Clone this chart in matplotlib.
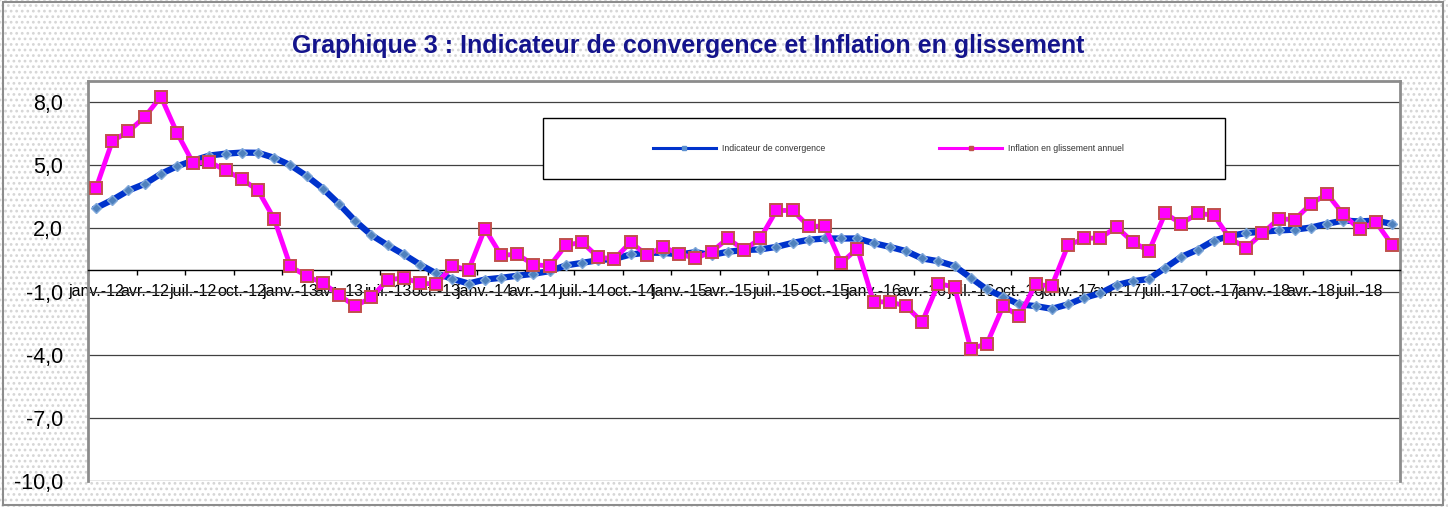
import matplotlib
matplotlib.use("Agg")
import matplotlib.pyplot as plt
from matplotlib.patches import Rectangle
from matplotlib.lines import Line2D
import numpy as np

# ---------------- data ----------------
tick_labels = ["janv.-12", "avr.-12", "juil.-12", "oct.-12",
               "janv.-13", "avr.-13", "juil.-13", "oct.-13",
               "janv.-14", "avr.-14", "juil.-14", "oct.-14",
               "janv.-15", "avr.-15", "juil.-15", "oct.-15",
               "janv.-16", "avr.-16", "juil.-16", "oct.-16",
               "janv.-17", "avr.-17", "juil.-17", "oct.-17",
               "janv.-18", "avr.-18", "juil.-18"]

indicateur = [2.97, 3.35, 3.80, 4.11, 4.59, 4.95, 5.22, 5.46, 5.55, 5.60,
              5.59, 5.35, 5.00, 4.49, 3.89, 3.16, 2.35, 1.68, 1.20, 0.76,
              0.28, -0.14, -0.40, -0.62, -0.43, -0.35, -0.25, -0.16, -0.03, 0.24,
              0.36, 0.49, 0.55, 0.76, 0.84, 0.84, 0.76, 0.87, 0.73, 0.89,
              0.97, 1.00, 1.12, 1.31, 1.46, 1.52, 1.52, 1.52, 1.30, 1.12,
              0.92, 0.57, 0.44, 0.21, -0.35, -0.90, -1.25, -1.61, -1.69, -1.82,
              -1.61, -1.30, -1.08, -0.69, -0.51, -0.40, 0.12, 0.65, 0.98, 1.42,
              1.64, 1.78, 1.84, 1.90, 1.94, 2.04, 2.22, 2.37, 2.33, 2.37,
              2.21]

inflation = [3.92, 6.14, 6.61, 7.29, 8.26, 6.53, 5.09, 5.16, 4.75, 4.34,
             3.80, 2.44, 0.19, -0.27, -0.59, -1.17, -1.70, -1.27, -0.45, -0.35,
             -0.60, -0.65, 0.21, 0.03, 1.98, 0.73, 0.76, 0.28, 0.21, 1.20,
             1.34, 0.63, 0.55, 1.34, 0.73, 1.12, 0.79, 0.57, 0.89, 1.52,
             0.97, 1.52, 2.85, 2.85, 2.10, 2.10, 0.36, 1.04, -1.49, -1.49,
             -1.69, -2.45, -0.62, -0.79, -3.72, -3.48, -1.69, -2.17, -0.66, -0.74,
             1.19, 1.52, 1.55, 2.06, 1.36, 0.92, 2.71, 2.22, 2.71, 2.63,
             1.52, 1.08, 1.76, 2.45, 2.42, 3.16, 3.64, 2.66, 1.95, 2.31,
             1.23]

y_ticks = [-10, -7, -4, -1, 2, 5, 8]

series_names = ["Indicateur de convergence", "Inflation en glissement annuel"]
title = "Graphique 3 : Indicateur de convergence et Inflation en glissement"

# ---------------- figure ----------------
plt.rcParams["font.family"] = ["Liberation Sans", "DejaVu Sans"]
plt.rcParams["hatch.linewidth"] = 1.2

W, H = 1448, 507
fig = plt.figure(figsize=(W / 100, H / 100), dpi=100)
fig.patch.set_facecolor("white")

# dotted background of the chart area
fig.add_artist(Rectangle((0, 0), 1, 1, transform=fig.transFigure,
                         facecolor="white", edgecolor="#d6d6d6", hatch="...",
                         lw=0, zorder=-10))
# outer chart border
fig.add_artist(Rectangle((3 / W, 2 / H), (1443 - 3) / W, (505 - 2) / H,
                         transform=fig.transFigure, fill=False,
                         edgecolor="#8c8c8c", lw=1.5, zorder=-9))

ax = fig.add_axes([88 / W, 1 - 481 / H, (1400 - 88) / W, (481 - 81) / H])
ax.set_facecolor("white")

x = np.arange(len(inflation))
ax.plot(x, indicateur, color="#0033CC", lw=4.5, marker="D", ms=5.5,
        mfc="#4F81BD", mec="#7FA8DA", mew=1.0, zorder=3, clip_on=False)
ax.plot(x, inflation, color="#FF00FF", lw=3.5, marker="s", ms=8.5,
        mfc="#FF00FF", mec="#C0504D", mew=1.4, zorder=4, clip_on=False)

ax.set_xlim(-0.5, len(inflation) - 0.5)
ax.set_ylim(-10, 9)

# y axis
ax.set_yticks(y_ticks)
ax.set_yticklabels([f"{v:.1f}".replace(".", ",") for v in y_ticks])
ax.tick_params(axis="y", length=0, pad=18, labelsize=15.5, colors="black")
ax.yaxis.grid(True, color="#404040", lw=0.9)
ax.set_axisbelow(True)

# x axis at y = 0
ax.spines["bottom"].set_position(("data", 0))
ax.spines["bottom"].set_color("black")
ax.spines["bottom"].set_linewidth(1.0)
ax.spines["bottom"].set_zorder(2.5)
for s in ["left", "right", "top"]:
    ax.spines[s].set_color("#8c8c8c")
    ax.spines[s].set_linewidth(2.0)

ax.set_xticks(np.arange(-0.5, len(inflation), 3))
ax.set_xticklabels([])
ax.tick_params(axis="x", which="major", length=3.6, width=1.0,
               direction="out", color="black")
ax.set_xticks(np.arange(0, len(inflation), 3), tick_labels, minor=True)
ax.tick_params(axis="x", which="minor", length=0, pad=9.4, labelsize=11.5)

# title
fig.text(688 / W, 1 - 46 / H, title, ha="center", va="center",
         fontsize=18, fontweight="bold", color="#14148C")

# legend
fig.add_artist(Rectangle((543 / W, 1 - 179 / H), (1225 - 543) / W, (179 - 118) / H,
                         transform=fig.transFigure, facecolor="white",
                         edgecolor="black", lw=1.0, zorder=5))
handles = [Line2D([], [], color="#0033CC", lw=2.2, marker="s", ms=3,
                  mfc="#5B8FD0", mec="#5B8FD0"),
           Line2D([], [], color="#FF00FF", lw=2.2, marker="s", ms=3.5,
                  mfc="#C0504D", mec="#C0504D")]
leg = fig.legend(handles, series_names, loc="center",
                 bbox_to_anchor=(888.5 / W, 1 - 148.5 / H), ncol=2,
                 frameon=False, fontsize=6.3, handlelength=7.2,
                 handletextpad=0.7, columnspacing=13)
leg.set_zorder(6)
for t in leg.get_texts():
    t.set_color("#333333")

fig.savefig("out.png", dpi=100)
